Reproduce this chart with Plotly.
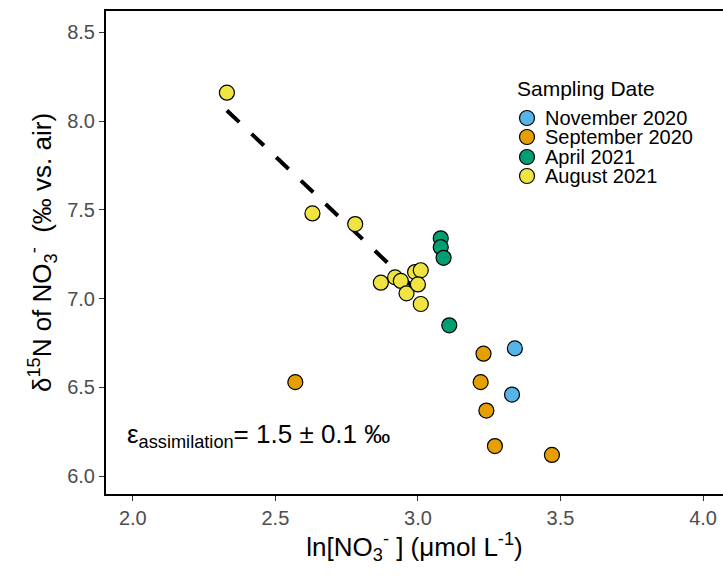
import plotly.graph_objects as go

# ---- data ----
series_names = ["November 2020", "September 2020", "April 2021", "August 2021"]
series_colors = ["#56B4E9", "#E69F00", "#009E73", "#F0E442"]

nov_x = [3.34, 3.33]
nov_y = [6.72, 6.46]

sep_x = [2.57, 3.23, 3.22, 3.24, 3.27, 3.47]
sep_y = [6.53, 6.69, 6.53, 6.37, 6.17, 6.12]

apr_x = [3.08, 3.08, 3.09, 3.11]
apr_y = [7.34, 7.29, 7.23, 6.85]

aug_x = [2.33, 2.63, 2.78, 2.87, 2.92, 2.94, 2.96, 2.99, 3.01, 3.00, 3.01]
aug_y = [8.16, 7.48, 7.42, 7.09, 7.12, 7.10, 7.03, 7.15, 7.16, 7.08, 6.97]

fit_x = [2.33, 3.00]
fit_y = [8.06, 7.04]

x_ticks = [2.0, 2.5, 3.0, 3.5, 4.0]
y_ticks = [6.0, 6.5, 7.0, 7.5, 8.0, 8.5]

FONT = "Liberation Sans, Arial, sans-serif"

# plot-area geometry (pixels) used to place the hand-drawn legend
W, H = 723, 576
ML, MR, MT, MB = 106, 0, 11, 82
PW, PH = W - ML - MR, H - MT - MB


def px(x):
    return (x - ML) / PW


def py(y):
    return (H - MB - y) / PH


fig = go.Figure()

fig.add_trace(go.Scatter(
    x=fit_x, y=fit_y, mode="lines",
    line=dict(color="black", width=4, dash="17px,17px"),
    showlegend=False, hoverinfo="skip"))

for name, col, xs, ys in zip(series_names, series_colors,
                             [nov_x, sep_x, apr_x, aug_x],
                             [nov_y, sep_y, apr_y, aug_y]):
    fig.add_trace(go.Scatter(
        x=xs, y=ys, mode="markers", name=name, showlegend=False,
        marker=dict(size=15, color=col, line=dict(color="black", width=1.2))))

fig.update_layout(
    width=W, height=H,
    margin=dict(l=ML, r=MR, t=MT, b=MB),
    paper_bgcolor="white", plot_bgcolor="white",
    font=dict(family=FONT, color="black"),
    showlegend=False,
    xaxis=dict(
        range=[1.906, 4.07], tickvals=x_ticks,
        ticktext=[f"{v:.1f}" for v in x_ticks],
        showgrid=False, zeroline=False,
        showline=True, linecolor="black", linewidth=2, mirror=True,
        ticks="outside", ticklen=5, tickcolor="#333333", tickwidth=1.2,
        tickfont=dict(size=20, color="#4D4D4D"),
        title=dict(text="ln[NO<sub>3</sub><sup>-</sup> ] (μmol L<sup>-1</sup>)",
                   font=dict(size=26, color="black"), standoff=8)),
    yaxis=dict(
        range=[5.90, 8.62], tickvals=y_ticks,
        ticktext=[f"{v:.1f}" for v in y_ticks],
        showgrid=False, zeroline=False,
        showline=True, linecolor="black", linewidth=2, mirror=False,
        ticks="outside", ticklen=5, tickcolor="#333333", tickwidth=1.2,
        tickfont=dict(size=20, color="#4D4D4D"),
        title=dict(text="δ<sup>15</sup>N of NO<sub>3</sub><sup>-</sup>  (‰ vs. air)",
                   font=dict(size=26, color="black"), standoff=8)),
)

# manual legend
fig.add_annotation(
    text="Sampling Date", xref="paper", yref="paper",
    x=px(515), y=py(89), xanchor="left", yanchor="middle",
    showarrow=False, font=dict(size=21, color="black"))

leg_y = [118, 137, 157, 176]
for name, col, ly in zip(series_names, series_colors, leg_y):
    fig.add_shape(
        type="circle", xref="paper", yref="paper",
        xsizemode="pixel", ysizemode="pixel",
        xanchor=px(527), yanchor=py(ly),
        x0=-7.5, x1=7.5, y0=-7.5, y1=7.5,
        fillcolor=col, line=dict(color="black", width=1.2))
    fig.add_annotation(
        text=name, xref="paper", yref="paper",
        x=px(543), y=py(ly), xanchor="left", yanchor="middle",
        showarrow=False, font=dict(size=20, color="black"))

fig.add_annotation(
    text="ε<sub>assimilation</sub>= 1.5 ± 0.1 ‰",
    xref="paper", yref="paper", x=px(125), y=py(435),
    xanchor="left", yanchor="middle", showarrow=False,
    font=dict(size=26, color="black"))

fig.write_html("out.html")
